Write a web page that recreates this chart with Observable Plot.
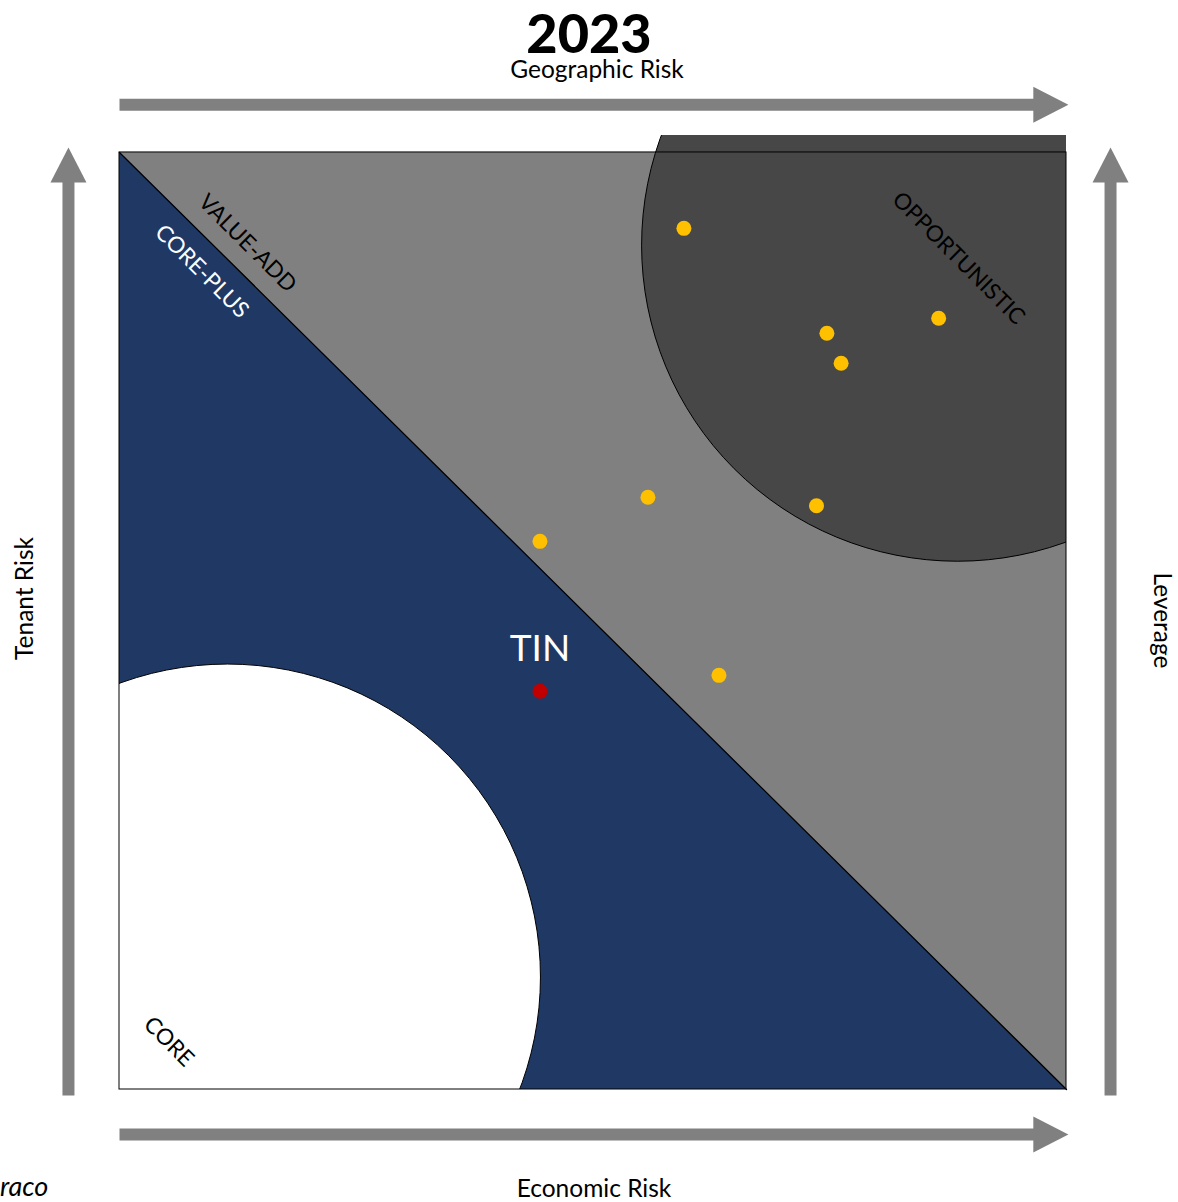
<!DOCTYPE html>
<html>
<head>
<meta charset="utf-8">
<script src="https://cdn.jsdelivr.net/npm/d3@7"></script>
<script src="https://cdn.jsdelivr.net/npm/@observablehq/plot@0.6"></script>
<style>
  body { margin: 0; background: white; font-family: Lato, "Open Sans", sans-serif; }
  #wrap { position: relative; width: 1178px; height: 1202px; overflow: hidden; }
  .t { position: absolute; white-space: nowrap; color: black; }
  #title { left: 0; width: 1178px; text-align: center; top: 0px; font-size: 54px; line-height: normal; font-weight: 900; box-sizing: border-box; }
  #sub { left: 0; width: 1178px; text-align: center; top: 57px; font-size: 24.5px; line-height: 24.5px; padding-left: 16px; box-sizing: border-box; }
  #xlab { left: 0; width: 1178px; text-align: center; top: 1175.5px; font-size: 24.5px; line-height: 24.5px; padding-left: 10px; box-sizing: border-box; }
  #src { left: 0; top: 1172px; font-size: 27px; line-height: 27px; font-style: italic; }
  #chart { position: absolute; left: 0; top: 90px; }
</style>
</head>
<body>
<div id="wrap">
  <div class="t" id="title">2023</div>
  <div class="t" id="sub">Geographic Risk</div>
  <div id="chart"></div>
  <div class="t" id="xlab">Economic Risk</div>
  <div class="t" id="src">raco</div>
</div>
<script>
// ---- data ----
// peer funds (economic risk on x, tenant risk on y, scale 0-100)
const peerX = [59.6, 74.7, 86.5, 76.2, 55.8, 73.6, 44.4, 63.3];
const peerY = [91.9, 80.7, 82.3, 77.5, 63.2, 62.3, 58.5, 44.2];
// highlighted fund
const focusName = ["TIN"];
const focusX = [44.4];
const focusY = [42.5];
// strategy zones
const zoneNames = ["CORE", "CORE-PLUS", "VALUE-ADD", "OPPORTUNISTIC"];
const zoneLabelX = [5.2, 8.7, 13.5, 88.6];
const zoneLabelY = [5.1, 87.3, 90.3, 88.7];
// zone boundaries: diagonal and two circles (centres)
const diagonalX = [0, 100];
const diagonalY = [100, 0];
const circleNames = ["CORE", "OPPORTUNISTIC"];
const circleX = [11.4, 88.5];
const circleY = [12.0, 90.1];
// axis arrows (direction labels)
const arrowNames = ["Geographic Risk", "Economic Risk", "Tenant Risk", "Leverage"];
const arrowFromX = [0, 0, -5.39, 104.65];
const arrowFromY = [105.1, -4.8, -0.64, -0.64];
const arrowToX = [100.2, 100.2, -5.39, 104.65];
const arrowToY = [105.1, -4.8, 100.53, 100.53];

// ---- build tables ----
const peers = peerX.map((x, i) => ({x, y: peerY[i]}));
const focus = focusX.map((x, i) => ({x, y: focusY[i], name: focusName[i]}));
const zoneColors = ["black", "white", "black", "black"];
const zones = zoneNames.map((n, i) => ({name: n, x: zoneLabelX[i], y: zoneLabelY[i], color: zoneColors[i]}));
const diag = diagonalX.map((x, i) => ({x, y: diagonalY[i]}));
const circles = circleNames.map((n, i) => ({name: n, x: circleX[i], y: circleY[i]}));
const arrows = arrowNames.map((n, i) => ({
  name: n, x1: arrowFromX[i], y1: arrowFromY[i], x2: arrowToX[i], y2: arrowToY[i],
  horizontal: arrowFromY[i] === arrowToY[i]
}));
const square = [{x1: 0, x2: 100, y1: 0, y2: 100}];
const sideLabels = [
  {name: "Tenant Risk", x: -9.93, y: 52.4, rotate: -90},
  {name: "Leverage", x: 110.1, y: 50.05, rotate: 90}
];

// arrow head symbol: tip at the origin, pointing up
const headSymbol = {
  draw(context, size) {
    const r = Math.sqrt(size / Math.PI);
    context.moveTo(0, 0);
    context.lineTo(-r, 1.95 * r);
    context.lineTo(r, 1.95 * r);
    context.closePath();
  }
};
const HEAD = 18;
// shaft ends a little inside the head
const shaftEnd = (a) => a.horizontal
  ? {x1: a.x1, y1: a.y1, x2: a.x2 - 3.2, y2: a.y2}
  : {x1: a.x1, y1: a.y1, x2: a.x2, y2: a.y2 - 3.2};
const shafts = arrows.map(shaftEnd);

const plot = Plot.plot({
  width: 1178,
  height: 1112,
  marginLeft: 119,
  marginRight: 112,
  marginTop: 45,
  marginBottom: 113,
  x: {domain: [0, 100], axis: null},
  y: {domain: [0, 101.81], axis: null},
  color: {type: "identity"},
  style: {fontFamily: "Lato, 'Open Sans', sans-serif", background: "transparent", overflow: "visible"},
  marks: [
    // value-add background
    Plot.rect(square, {x1: "x1", x2: "x2", y1: "y1", y2: "y2", fill: "#808080"}),
    // core-plus triangle
    Plot.areaY(diag, {x: "x", y: "y", fill: "#203864"}),
    Plot.line(diag, {x: "x", y: "y", stroke: "black", strokeWidth: 1.3}),
    // core circle
    Plot.dot(circles.filter(d => d.name === "CORE"), {x: "x", y: "y", r: 313, fill: "white", stroke: "black", strokeWidth: 1, clip: "frame"}),
    // opportunistic circle
    Plot.dot(circles.filter(d => d.name === "OPPORTUNISTIC"), {x: "x", y: "y", r: 316, fill: "#474747", stroke: "black", strokeWidth: 1, clip: "frame"}),
    // square outline
    Plot.rect(square, {x1: "x1", x2: "x2", y1: "y1", y2: "y2", fill: "none", stroke: "black", strokeWidth: 1}),
    // zone labels
    Plot.text(zones, {x: "x", y: "y", text: "name", fill: "color", rotate: 45, fontSize: 22.5}),
    // peers
    Plot.dot(peers, {x: "x", y: "y", r: 7.5, fill: "#FFC000"}),
    // focus fund
    Plot.dot(focus, {x: "x", y: "y", r: 7.5, fill: "#C00000"}),
    Plot.text(focus, {x: "x", y: "y", text: "name", dy: -42, fill: "white", fontSize: 37}),
    // axis arrows
    Plot.link(shafts, {x1: "x1", y1: "y1", x2: "x2", y2: "y2", stroke: "#808080", strokeWidth: 12}),
    Plot.dot(arrows, {x: "x2", y: "y2", symbol: headSymbol, r: HEAD, fill: "#808080", rotate: d => d.horizontal ? 90 : 0}),
    // side labels
    Plot.text(sideLabels.filter(d => d.rotate < 0), {x: "x", y: "y", text: "name", rotate: -90, fontSize: 24.5, fill: "black"}),
    Plot.text(sideLabels.filter(d => d.rotate > 0), {x: "x", y: "y", text: "name", rotate: 90, fontSize: 24.5, fill: "black"})
  ]
});
document.getElementById("chart").appendChild(plot);
</script>
</body>
</html>
